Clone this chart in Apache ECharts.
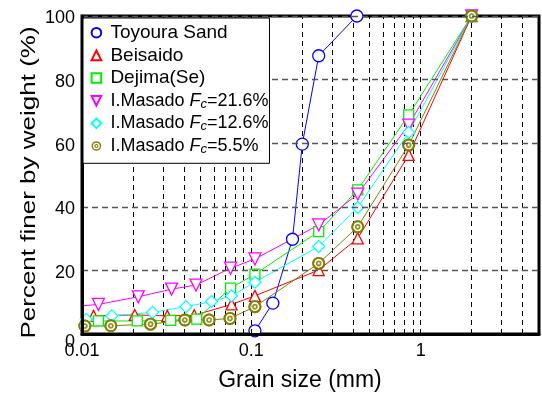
<!DOCTYPE html>
<html><head><meta charset="utf-8">
<script src="https://cdn.jsdelivr.net/npm/echarts@6/dist/echarts.min.js"></script>
<style>html,body{margin:0;padding:0;background:#fff}#c{width:542px;height:397px}</style>
</head><body><div id="c"></div>
<script>
// ---- data ----
const toyouraX = [0.105, 0.134, 0.175, 0.2, 0.25, 0.42];
const toyouraY = [1, 9.7, 29.8, 59.7, 87.5, 100];
const beisaidoX = [0.0117, 0.0205, 0.0319, 0.046, 0.0764, 0.105, 0.25, 0.425, 0.85, 2];
const beisaidoY = [5.7, 6.0, 5.7, 5.9, 9.3, 12.0, 20.1, 30.1, 56.3, 100];
const dejimaX = [0.0125, 0.0212, 0.0334, 0.0476, 0.0754, 0.105, 0.25, 0.425, 0.85, 2];
const dejimaY = [4.1, 4.1, 4.3, 4.7, 14.4, 18.8, 32.2, 45.3, 68.9, 100];
const masado216X = [0.008, 0.0125, 0.0215, 0.0338, 0.0471, 0.0754, 0.105, 0.25, 0.425, 0.85, 2];
const masado216Y = [8.4, 9.3, 11.7, 14.1, 15.4, 20.7, 23.6, 34.3, 44.0, 65.7, 100];
const masado126X = [0.0106, 0.015, 0.0261, 0.0411, 0.0582, 0.0764, 0.105, 0.25, 0.425, 0.85, 2];
const masado126Y = [4.6, 5.7, 6.8, 8.6, 10.2, 12.0, 16.3, 27.5, 39.8, 63.4, 100];
const masado55X = [0.0104, 0.0148, 0.0254, 0.0405, 0.0563, 0.0748, 0.105, 0.25, 0.425, 0.85, 2];
const masado55Y = [2.5, 2.6, 3.1, 4.4, 4.4, 4.9, 8.6, 22.2, 33.7, 59.4, 100];

const seriesNames = ['Toyoura Sand', 'Beisaido', 'Dejima(Se)', 'I.Masado Fc=21.6%', 'I.Masado Fc=12.6%', 'I.Masado Fc=5.5%'];
const legendLabels = {
  'Toyoura Sand': '{p|Toyoura Sand}',
  'Beisaido': '{p|Beisaido}',
  'Dejima(Se)': '{p|Dejima(Se)}',
  'I.Masado Fc=21.6%': '{n|I.Masado }{i|F}{s|c}{n|=21.6%}',
  'I.Masado Fc=12.6%': '{n|I.Masado }{i|F}{s|c}{n|=12.6%}',
  'I.Masado Fc=5.5%': '{n|I.Masado }{i|F}{s|c}{n|=5.5%}'
};
const xLabelValues = [0.01, 0.1, 1];
const xTickValues = [0.01,0.02,0.03,0.04,0.05,0.06,0.07,0.08,0.09,0.1,0.2,0.3,0.4,0.5,0.6,0.7,0.8,0.9,1,2,3,4,5];
const xGridValues = [0.02,0.03,0.04,0.05,0.06,0.07,0.08,0.09,0.1,0.2,0.3,0.4,0.5,0.6,0.7,0.8,0.9,1,2,3,4];
const xMin = 0.01, xMax = 5;
const yMin = 0, yMax = 100, yStep = 20;

const FONT = '"Liberation Sans", Arial, sans-serif';
const OLIVE = '#808000';
const bullseye = 'path://M0,-6A6,6,0,1,1,0,6A6,6,0,1,1,0,-6ZM0,-4.2A4.2,4.2,0,1,0,0,4.2A4.2,4.2,0,1,0,0,-4.2ZM0,-2.6A2.6,2.6,0,1,1,0,2.6A2.6,2.6,0,1,1,0,-2.6ZM0,-1.1A1.1,1.1,0,1,0,0,1.1A1.1,1.1,0,1,0,0,-1.1Z';

function pts(xs, ys) { return xs.map((x, i) => [x, ys[i]]); }
function mk(name, xs, ys, color, symbol, size, z, extra) {
  return Object.assign({
    type: 'line', name: name, data: pts(xs, ys), symbol: symbol, symbolSize: size,
    lineStyle: { color: color, width: 1 },
    itemStyle: { color: '#fff', borderColor: color, borderWidth: 1.3 },
    z: z, clip: true, animation: false
  }, extra || {});
}

const chart = echarts.init(document.getElementById('c'), null, { renderer: 'canvas' });
chart.setOption({
  backgroundColor: '#fff',
  animation: false,
  grid: { left: 82, right: 3, top: 16, bottom: 63, show: true, borderColor: '#000', borderWidth: 3, z: 0 },
  xAxis: {
    type: 'log', logBase: 10, min: xMin, max: xMax, z: 8,
    axisLine: { show: true, onZero: false, lineStyle: { color: '#000', width: 3 } },
    axisTick: { show: true, inside: true, length: 5, customValues: xTickValues, lineStyle: { color: '#000', width: 1 } },
    axisLabel: { customValues: xLabelValues, fontSize: 18, fontFamily: FONT, color: '#000', margin: 8,
      formatter: v => String(+(+v).toPrecision(3)) },
    splitLine: { show: false }, minorTick: { show: false }
  },
  yAxis: {
    type: 'value', min: yMin, max: yMax, interval: yStep, z: 8,
    axisLine: { show: true, lineStyle: { color: '#000', width: 3 } },
    axisTick: { show: false },
    axisLabel: { fontSize: 18, fontFamily: FONT, color: '#000', margin: 7,
      formatter: v => v === 0 ? '{z|0}' : '{a|' + v + '}',
      rich: { a: { fontSize: 18, fontFamily: FONT, padding: [5, 0, 0, 0] }, z: { fontSize: 18, fontFamily: FONT, padding: [17, 0, 0, 0] } } },
    splitLine: { show: true, lineStyle: { color: '#555', type: [6, 4], width: 1.3 } }
  },
  legend: {
    orient: 'vertical', left: 83, top: 18, z: 20,
    padding: [4.7, 1, 7.3, 4.4], itemWidth: 18, itemHeight: 12, itemGap: 2.66,
    backgroundColor: '#fff', borderColor: '#000', borderWidth: 1, borderRadius: 0,
    selectedMode: false, lineStyle: { width: 0 },
    data: seriesNames,
    formatter: name => legendLabels[name],
    textStyle: {
      fontFamily: FONT, fontSize: 19, color: '#000', lineHeight: 20,
      rich: {
        p: { fontFamily: FONT, fontSize: 19, lineHeight: 20, color: '#000' },
        n: { fontFamily: FONT, fontSize: 18, lineHeight: 20, color: '#000' },
        i: { fontFamily: FONT, fontSize: 18, lineHeight: 20, fontStyle: 'italic', color: '#000' },
        s: { fontFamily: FONT, fontSize: 13, lineHeight: 10, fontStyle: 'italic', verticalAlign: 'bottom', color: '#000' }
      }
    }
  },
  graphic: [
    { type: 'text', x: 300, y: 381, silent: true,
      style: { text: 'Grain size (mm)', fontSize: 23, fontFamily: FONT, fill: '#000', align: 'center', verticalAlign: 'middle' } },
    { type: 'text', x: 29, y: 182.5, rotation: Math.PI / 2, scaleX: 1.3, silent: true,
      style: { text: 'Percent finer by weight (%)', fontSize: 20, fontFamily: FONT, fill: '#000', align: 'center', verticalAlign: 'middle' } }
  ],
  series: [
    { type: 'line', name: 'grid', data: [], z: 1, silent: true, animation: false,
      markLine: { silent: true, symbol: ['none', 'none'], animation: false, label: { show: false }, z: 1,
        lineStyle: { color: '#000', type: [5, 4], width: 1 },
        data: xGridValues.map(v => ({ xAxis: v })) } },
    mk('Toyoura Sand', toyouraX, toyouraY, '#0000ff', 'circle', 12, 3),
    mk('Beisaido', beisaidoX, beisaidoY, '#ff0000', 'triangle', 11, 3),
    mk('Dejima(Se)', dejimaX, dejimaY, '#00ee00', 'rect', 10, 3),
    mk('I.Masado Fc=21.6%', masado216X, masado216Y, '#ff00ff', 'triangle', 12, 3, { symbolRotate: 180 }),
    mk('I.Masado Fc=12.6%', masado126X, masado126Y, '#00ffff', 'diamond', 12, 3),
    mk('I.Masado Fc=5.5%', masado55X, masado55Y, OLIVE, bullseye, 13, 3,
      { itemStyle: { color: OLIVE, borderWidth: 0 } }),
    { type: 'scatter', name: '_w', data: pts(masado55X, masado55Y), symbol: 'circle', symbolSize: 9,
      itemStyle: { color: '#fff' }, z: 4, silent: true, animation: false },
    { type: 'scatter', name: '_b', data: pts(masado55X, masado55Y), symbol: bullseye, symbolSize: 13,
      itemStyle: { color: OLIVE }, z: 5, silent: true, animation: false }
  ]
});
</script></body></html>
